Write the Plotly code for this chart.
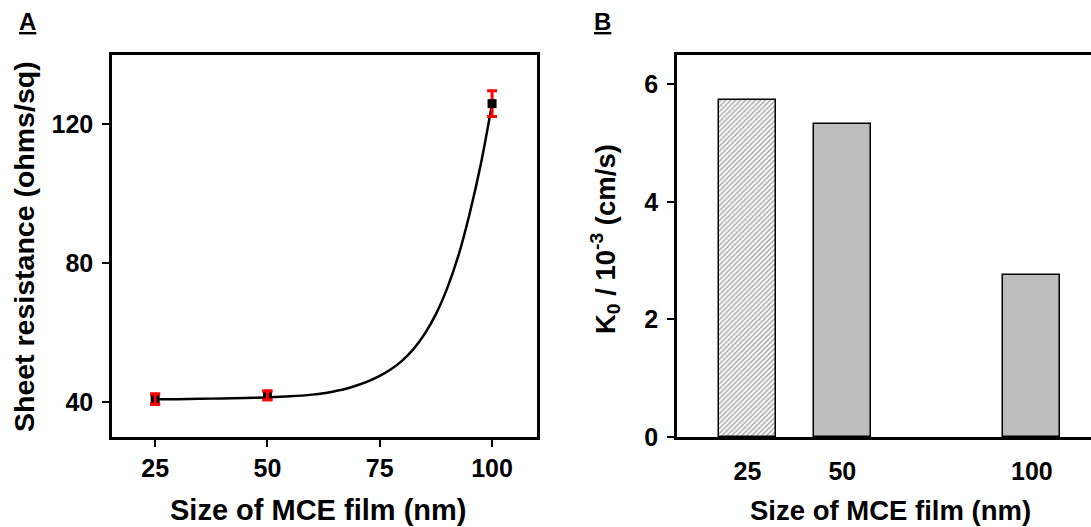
import plotly.graph_objects as go

# ---------------- data ----------------
# Panel A: sheet resistance vs MCE film size
size_a = [25, 50, 100]
resistance = [40.9, 42.0, 126.0]
resistance_err = [1.45, 1.25, 3.7]
# fitted curve
fit_x = [25, 30, 35, 40, 45, 50, 55, 60, 62.5, 65, 67.5, 70, 72.5, 75, 77.5, 80,
         82.5, 85, 87.5, 90, 92.5, 95, 97.5, 100]
fit_y = [40.9, 40.9, 41.0, 41.1, 41.2, 41.4, 41.7, 42.2, 42.6, 43.2, 43.9, 44.9, 46.1, 47.6,
         49.5, 52.0, 55.3, 59.7, 65.4, 72.8, 82.2, 94.3, 108.6, 126.0]

# Panel B: K0 vs MCE film size
size_b = [25, 50, 100]
k0 = [5.74, 5.33, 2.76]
bar_colors = ["white", "#bdbdbd", "#bdbdbd"]
bar_patterns = ["/", "", ""]

ticks_a_x = [25, 50, 75, 100]
ticks_a_y = [40, 80, 120]
ticks_b_y = [0, 2, 4, 6]

FONT = "Liberation Sans, Arial, sans-serif"
W, H = 1091, 527
H_EFF = 513.0

def px(x):
    return x / W

def py(y):
    return 1 - y / H_EFF

fig = go.Figure()

# fitted curve
fig.add_trace(go.Scatter(
    x=fit_x, y=fit_y, mode="lines",
    line=dict(color="black", width=2.5, shape="spline", smoothing=1.0),
    xaxis="x", yaxis="y", showlegend=False, hoverinfo="skip"))

# data points (black squares) with red error bars underneath
fig.add_trace(go.Scatter(
    x=size_a, y=resistance, mode="markers",
    marker=dict(symbol="square", size=9, color="black"),
    error_y=dict(type="data", array=resistance_err, color="red", thickness=3, width=5),
    xaxis="x", yaxis="y", showlegend=False))

# small error bars overlap the squares: redraw their caps on top
fig.add_trace(go.Scatter(
    x=size_a[:2], y=resistance[:2], mode="markers",
    marker=dict(symbol="square", size=9, color="black", opacity=0),
    error_y=dict(type="data", array=resistance_err[:2], color="red", thickness=3, width=5),
    xaxis="x", yaxis="y", showlegend=False, hoverinfo="skip"))

# bars
fig.add_trace(go.Bar(
    x=size_b, y=k0, width=15,
    marker=dict(color=bar_colors, line=dict(color="black", width=1.5),
                pattern=dict(shape=bar_patterns, fgcolor="#666666", bgcolor="white",
                             size=3.5, solidity=0.4)),
    xaxis="x2", yaxis="y2", showlegend=False))

tickfont_a = dict(family=FONT, size=25, color="black", weight="bold")

fig.update_layout(
    width=W, height=H,
    margin=dict(l=0, r=0, t=0, b=0),
    paper_bgcolor="white", plot_bgcolor="white",
    bargap=0,
    xaxis=dict(domain=[px(112), px(537)], range=[15.4, 110], tickvals=ticks_a_x,
               showline=True, linecolor="black", linewidth=2.5, mirror=True,
               ticks="outside", ticklen=7, tickwidth=2, tickcolor="black",
               showgrid=False, zeroline=False, tickfont=tickfont_a, anchor="y",
               ticklabelstandoff=0),
    yaxis=dict(domain=[py(437), py(55)], range=[30, 140], tickvals=ticks_a_y,
               showline=True, linecolor="black", linewidth=2.5, mirror=True,
               ticks="outside", ticklen=7, tickwidth=2, tickcolor="black",
               showgrid=False, zeroline=False, tickfont=tickfont_a, anchor="x",
               ticklabelstandoff=4),
    xaxis2=dict(domain=[px(677), 1.0], range=[6.4, 115.6], tickvals=size_b,
                showline=True, linecolor="black", linewidth=2.5, mirror=True,
                ticks="", showgrid=False, zeroline=False, tickfont=tickfont_a,
                anchor="y2", ticklabelstandoff=10),
    yaxis2=dict(domain=[py(437), py(55)], range=[0, 6.5], tickvals=ticks_b_y,
                showline=True, linecolor="black", linewidth=2.5, mirror=False,
                ticks="outside", ticklen=7, tickwidth=2, tickcolor="black",
                showgrid=False, zeroline=False, tickfont=tickfont_a, anchor="x2",
                ticklabelstandoff=4),
)

annotations = [
    dict(text="<b>Size of MCE film (nm)</b>", x=px(318), y=py(510), xref="paper", yref="paper",
         xanchor="center", yanchor="middle", showarrow=False,
         font=dict(family=FONT, size=29, color="black")),
    dict(text="<b>Sheet resistance (ohms/sq)</b>", x=px(24), y=py(247), xref="paper", yref="paper",
         xanchor="center", yanchor="middle", showarrow=False,
         font=dict(family=FONT, size=28.5, color="black"), textangle=-90),
    dict(text="<b>Size of MCE film (nm)</b>", x=px(890), y=py(510), xref="paper", yref="paper",
         xanchor="center", yanchor="middle", showarrow=False,
         font=dict(family=FONT, size=27.5, color="black")),
    dict(text="<b>K<sub>0</sub> / 10<sup>-3</sup> (cm/s)</b>", x=px(605), y=py(239), xref="paper",
         yref="paper", xanchor="center", yanchor="middle", showarrow=False,
         font=dict(family=FONT, size=27.5, color="black"), textangle=-90),
    dict(text="<b>A</b>", x=px(27), y=py(21), xref="paper", yref="paper",
         xanchor="center", yanchor="middle", showarrow=False,
         font=dict(family=FONT, size=24, color="black", lineposition="under")),
    dict(text="<b>B</b>", x=px(602), y=py(21), xref="paper", yref="paper",
         xanchor="center", yanchor="middle", showarrow=False,
         font=dict(family=FONT, size=24, color="black", lineposition="under")),
]
fig.update_layout(annotations=annotations)

fig.write_html("out.html")
